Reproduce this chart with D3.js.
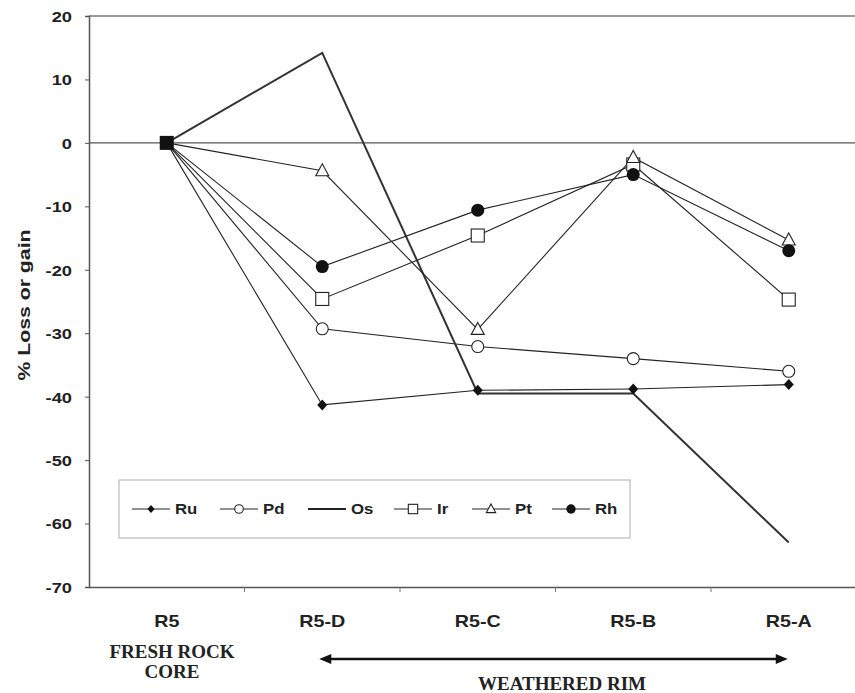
<!DOCTYPE html>
<html><head><meta charset="utf-8">
<script src="https://cdn.jsdelivr.net/npm/d3@7"></script>
<style>body{margin:0;background:#fff}svg{display:block}</style>
</head><body>
<script>
const categories = ["R5","R5-D","R5-C","R5-B","R5-A"];
const ru = [0,-41.3,-39.0,-38.8,-38.1];
const pd = [0,-29.3,-32.1,-34.0,-36.0];
const os = [0,14.2,-39.5,-39.5,-63.0];
const ir = [0,-24.6,-14.6,-3.4,-24.7];
const pt = [0,-4.4,-29.4,-2.3,-15.3];
const rh = [0,-19.5,-10.6,-5.0,-17.0];
const yTicks = [20,10,0,-10,-20,-30,-40,-50,-60,-70];
const seriesNames = ["Ru","Pd","Os","Ir","Pt","Rh"];

(function(){
const series = [
  {name:"Ru", values:ru, marker:"diamond"},
  {name:"Pd", values:pd, marker:"ocircle"},
  {name:"Os", values:os, marker:"none"},
  {name:"Ir", values:ir, marker:"square"},
  {name:"Pt", values:pt, marker:"triangle"},
  {name:"Rh", values:rh, marker:"fcircle"}
];
const sans="Liberation Sans, Arial, sans-serif";
const serif="Liberation Serif, 'Times New Roman', serif";

const W=855,H=693;
const svg=d3.select("body").append("svg").attr("width",W).attr("height",H);
const mL=89, mT=16, mB=587, mR=89+155.5*5;
const x=d3.scaleBand().domain(categories).range([mL,mR]);
const y=d3.scaleLinear().domain([-70,20]).range([mB,mT]);
const cx=c=>x(c)+x.bandwidth()/2;

// frame
svg.append("line").attr("x1",mL).attr("x2",mR).attr("y1",mT).attr("y2",mT).attr("stroke","#777").attr("stroke-width",1.5);
svg.append("line").attr("x1",mL).attr("x2",mR).attr("y1",y(0)).attr("y2",y(0)).attr("stroke","#555").attr("stroke-width",1.3);

// y axis
const ya=svg.append("g").attr("transform",`translate(${mL},0)`)
  .call(d3.axisLeft(y).tickValues(yTicks).tickSize(4).tickPadding(10).tickFormat(d=>String(d)));
ya.select(".domain").attr("stroke","#555").attr("stroke-width",1.5);
ya.selectAll(".tick line").attr("stroke","#555");
ya.selectAll("text").attr("font-family",sans).attr("font-weight","bold").attr("font-size",15).attr("fill","#222")
  .attr("x",-17/1.22).attr("dy","0.36em").attr("transform","scale(1.22,1)");

// x axis
const xa=svg.append("g").attr("transform",`translate(0,${mB})`)
  .call(d3.axisBottom(x).tickSize(0).tickPadding(26));
xa.select(".domain").attr("stroke","#555").attr("stroke-width",1.5);
xa.selectAll("text").attr("font-family",sans).attr("font-weight","bold").attr("font-size",17).attr("fill","#222")
  .attr("y",40).attr("dy",0).attr("transform","scale(1.16,1)");
categories.forEach((c,i)=>{
  if(i>0) svg.append("line").attr("x1",x(c)).attr("x2",x(c)).attr("y1",mB).attr("y2",mB+5).attr("stroke","#777");
});

// y title
svg.append("text").attr("transform",`translate(29.5,305) rotate(-90) scale(1.25,1)`)
  .attr("text-anchor","middle").attr("font-family",sans)
  .attr("font-weight","bold").attr("font-size",17).attr("fill","#222").text("% Loss or gain");

// lines
const line=d3.line().x((d,i)=>cx(categories[i])).y(d=>y(d));
series.forEach(s=>{
  svg.append("path").attr("d",line(s.values)).attr("fill","none")
    .attr("stroke",s.name==="Os"?"#333":"#222").attr("stroke-width",s.name==="Os"?2:1.1);
});

function drawMarker(g,type,px,py,k=1){
  if(type==="diamond"){
    g.append("path").attr("d",`M${px},${py-5.5*k}L${px+5*k},${py}L${px},${py+5.5*k}L${px-5*k},${py}Z`).attr("fill","#111");
  } else if(type==="ocircle"){
    g.append("circle").attr("cx",px).attr("cy",py).attr("r",6*k).attr("fill","#fff").attr("stroke","#222").attr("stroke-width",1.1);
  } else if(type==="fcircle"){
    g.append("circle").attr("cx",px).attr("cy",py).attr("r",6.5*k).attr("fill","#111");
  } else if(type==="square"){
    g.append("rect").attr("x",px-6.5*k).attr("y",py-6.5*k).attr("width",13*k).attr("height",13*k).attr("fill","#fff").attr("stroke","#222").attr("stroke-width",1.1);
  } else if(type==="triangle"){
    g.append("path").attr("d",`M${px},${py-7*k}L${px+6.5*k},${py+5*k}L${px-6.5*k},${py+5*k}Z`).attr("fill","#fff").attr("stroke","#222").attr("stroke-width",1.1);
  }
}
const mg=svg.append("g");
series.forEach(s=>{
  if(s.marker==="none") return;
  s.values.forEach((v,i)=>{ if(i>0) drawMarker(mg,s.marker,cx(categories[i]),y(v)); });
});
// shared origin point (all series at 0)
mg.append("rect").attr("x",cx(categories[0])-7).attr("y",y(ru[0])-7).attr("width",14).attr("height",14).attr("fill","#111");

// legend
const lg=svg.append("g");
lg.append("rect").attr("x",119).attr("y",480).attr("width",511).attr("height",58).attr("fill","#fff").attr("stroke","#bbb").attr("stroke-width",1.2);
const legX=[132,220,308,394,472,552];
series.forEach((s,i)=>{
  const lx=legX[i], ly=509;
  lg.append("line").attr("x1",lx).attr("x2",lx+38).attr("y1",ly).attr("y2",ly).attr("stroke","#222").attr("stroke-width",s.name==="Os"?2:1.1);
  drawMarker(lg,s.marker,lx+19,ly,0.72);
  lg.append("text").attr("transform",`translate(${lx+43},${ly+5}) scale(1.2,1)`).attr("font-family",sans)
    .attr("font-weight","bold").attr("font-size",14).attr("fill","#222").text(seriesNames[i]);
});

// bottom annotations
svg.append("text").attr("x",172).attr("y",658).attr("text-anchor","middle").attr("font-family",serif).attr("font-weight","bold").attr("font-size",19).attr("fill","#222").text("FRESH ROCK");
svg.append("text").attr("x",172).attr("y",678).attr("text-anchor","middle").attr("font-family",serif).attr("font-weight","bold").attr("font-size",19).attr("fill","#222").text("CORE");
const ax1=cx("R5-D")-3, ax2=cx("R5-A")-1, ay=659;
svg.append("line").attr("x1",ax1+8).attr("x2",ax2-8).attr("y1",ay).attr("y2",ay).attr("stroke","#111").attr("stroke-width",2.6);
svg.append("path").attr("d",`M${ax1},${ay}L${ax1+12},${ay-5}L${ax1+12},${ay+5}Z`).attr("fill","#111");
svg.append("path").attr("d",`M${ax2},${ay}L${ax2-12},${ay-5}L${ax2-12},${ay+5}Z`).attr("fill","#111");
svg.append("text").attr("x",562).attr("y",690).attr("text-anchor","middle").attr("font-family",serif).attr("font-weight","bold").attr("font-size",19).attr("fill","#222").text("WEATHERED RIM");
})();
</script>
</body></html>
